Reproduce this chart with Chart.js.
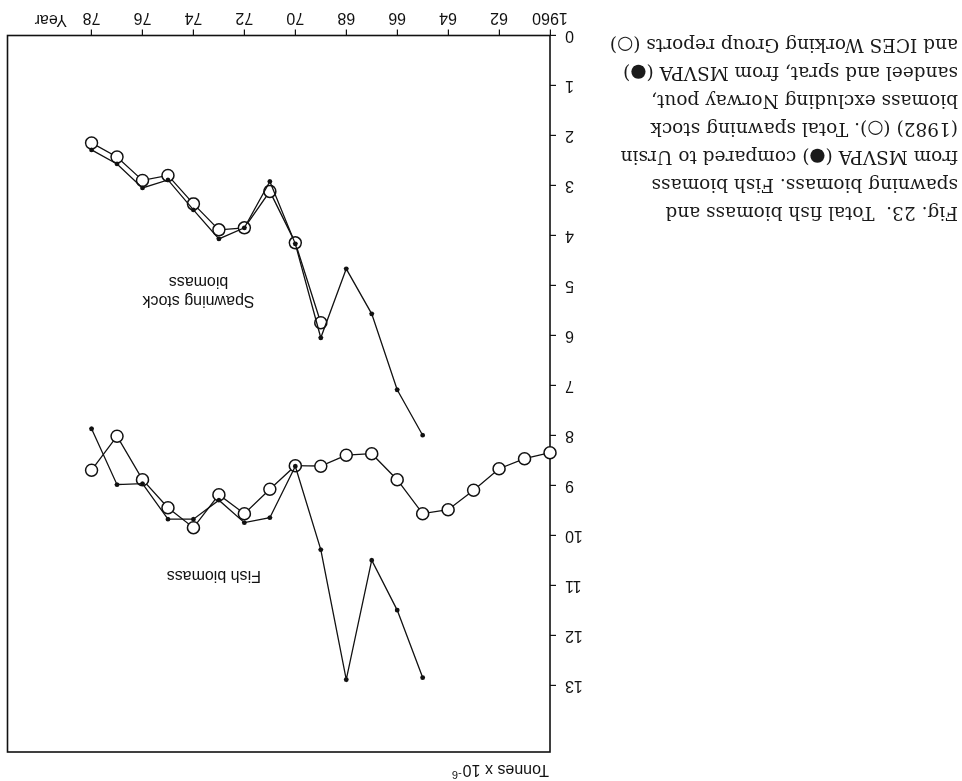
<!DOCTYPE html>
<html>
<head>
<meta charset="utf-8">
<script src="https://cdn.jsdelivr.net/npm/chart.js@4.4.0/dist/chart.umd.min.js"></script>
<style>
  html, body { margin: 0; padding: 0; background: #fff; }
  #page {
    position: relative;
    width: 962px;
    height: 781px;
    overflow: hidden;
    transform: rotate(180deg);
  }
  #chart { position: absolute; left: 0; top: 0; }
  #caption {
    position: absolute;
    left: 4px;
    top: 554px;
    font-family: "DejaVu Serif", serif;
    font-size: 18.5px;
    line-height: 28px;
    color: #1a1a1a;
    white-space: nowrap;
  }
</style>
</head>
<body>
<div id="page">
  <canvas id="chart" width="962" height="781"></canvas>
  <div id="caption">
    Fig. 23.&nbsp; Total fish biomass and<br>
    spawning biomass. Fish biomass<br>
    from MSVPA (●) compared to Ursin<br>
    (1982) (○). Total spawning stock<br>
    biomass excluding Norway pout,<br>
    sandeel and sprat, from MSVPA (●)<br>
    and ICES Working Group reports (○)
  </div>
</div>
<script>
// tick positions and labels
const xTicks = [1960, 1962, 1964, 1966, 1968, 1970, 1972, 1974, 1976, 1978];
const xTickLabels = ['1960', '62', '64', '66', '68', '70', '72', '74', '76', '78'];
const yTicks = [0, 1, 2, 3, 4, 5, 6, 7, 8, 9, 10, 11, 12, 13];

// fish biomass, Ursin (1982), open circles
const ursinYears = [1960, 1961, 1962, 1963, 1964, 1965, 1966, 1967, 1968, 1969,
                    1970, 1971, 1972, 1973, 1974, 1975, 1976, 1977, 1978];
const ursinFish = [8.35, 8.47, 8.67, 9.10, 9.49, 9.57, 8.89, 8.37, 8.40, 8.62,
                   8.61, 9.08, 9.57, 9.19, 9.85, 9.45, 8.89, 8.02, 8.70];

// MSVPA, filled dots
const msvpaYears = [1965, 1966, 1967, 1968, 1969, 1970, 1971, 1972, 1973, 1974, 1975, 1976, 1977, 1978];
const msvpaFish = [12.85, 11.50, 10.50, 12.89, 10.29, 8.62, 9.65, 9.75, 9.30, 9.68, 9.68, 8.97, 8.99, 7.87];
const msvpaSpawning = [8.00, 7.09, 5.57, 4.67, 6.05, 4.17, 2.92, 3.85, 4.07, 3.49, 2.89, 3.05, 2.57, 2.29];

// spawning stock, ICES working group reports, open circles
const icesYears = [1969, 1970, 1971, 1972, 1973, 1974, 1975, 1976, 1977, 1978];
const icesSpawning = [5.75, 4.15, 3.12, 3.85, 3.89, 3.37, 2.80, 2.90, 2.43, 2.15];

function pts(xs, ys) {
  return xs.map((x, i) => ({ x: x, y: ys[i] }));
}

const dotStyle = {
  showLine: true,
  borderColor: '#111',
  borderWidth: 1.3,
  pointRadius: 2.4,
  pointBackgroundColor: '#111',
  pointBorderWidth: 0,
  clip: false
};
const circleStyle = {
  showLine: true,
  borderColor: '#111',
  borderWidth: 1.3,
  pointRadius: 6,
  pointBackgroundColor: '#fff',
  pointBorderColor: '#111',
  pointBorderWidth: 1.5,
  clip: false
};

const frame = {
  id: 'frame',
  beforeDatasetsDraw(chart) {
    const a = chart.chartArea;
    const ctx = chart.ctx;
    ctx.save();
    ctx.strokeStyle = '#111';
    ctx.lineWidth = 1.6;
    ctx.strokeRect(a.left, a.top, a.right - a.left, a.bottom - a.top);
    ctx.restore();
  },
  afterDraw(chart) {
    const ctx = chart.ctx;
    const x = chart.scales.x, y = chart.scales.y;
    const a = chart.chartArea;
    ctx.save();
    ctx.fillStyle = '#111';
    ctx.font = '16px "Liberation Sans", Arial, sans-serif';
    ctx.textAlign = 'center';
    ctx.textBaseline = 'middle';
    ctx.fillText('Fish biomass', x.getPixelForValue(1973.2), y.getPixelForValue(10.8));
    ctx.fillText('Spawning stock', x.getPixelForValue(1973.8), y.getPixelForValue(5.3));
    ctx.fillText('biomass', x.getPixelForValue(1973.8), y.getPixelForValue(4.93));
    ctx.fillText('Year', x.getPixelForValue(1979.6), a.bottom + 16);
    // axis unit
    ctx.textAlign = 'left';
    ctx.fillText('Tonnes x 10', a.left + 1, 12);
    const w = ctx.measureText('Tonnes x 10').width;
    ctx.font = '11px "Liberation Sans", Arial, sans-serif';
    ctx.fillText('-6', a.left + 1 + w + 1, 7);
    ctx.restore();
  }
};

Chart.defaults.font.family = '"Liberation Sans", Arial, sans-serif';
Chart.defaults.font.size = 16;
Chart.defaults.color = '#111';

new Chart(document.getElementById('chart'), {
  type: 'scatter',
  data: {
    datasets: [
      Object.assign({ data: pts(msvpaYears, msvpaFish) }, dotStyle),
      Object.assign({ data: pts(msvpaYears, msvpaSpawning) }, dotStyle),
      Object.assign({ data: pts(ursinYears, ursinFish) }, circleStyle),
      Object.assign({ data: pts(icesYears, icesSpawning) }, circleStyle)
    ]
  },
  options: {
    responsive: false,
    animation: false,
    layout: { padding: { left: 362, right: 6.5, top: 29, bottom: 5.5 } },
    plugins: { legend: { display: false }, tooltip: { enabled: false } },
    scales: {
      x: {
        type: 'linear',
        min: 1960,
        max: 1981.3,
        afterBuildTicks: s => { s.ticks = xTicks.map(v => ({ value: v })); },
        afterFit: s => { s.height = 30; },
        border: { display: false },
        grid: { drawOnChartArea: false, drawTicks: true, tickLength: 6, color: '#111', lineWidth: 1.2 },
        ticks: {
          padding: 2,
          maxRotation: 0,
          autoSkip: false,
          callback: v => xTickLabels[xTicks.indexOf(v)]
        }
      },
      y: {
        type: 'linear',
        min: 0,
        max: 14.34,
        afterBuildTicks: s => { s.ticks = yTicks.map(v => ({ value: v })); },
        afterFit: s => { s.width = 50; },
        border: { display: false },
        grid: { drawOnChartArea: false, drawTicks: true, tickLength: 6, color: '#111', lineWidth: 1.2 },
        ticks: { padding: 9, autoSkip: false, callback: v => String(v) }
      }
    }
  },
  plugins: [frame]
});
</script>
</body>
</html>
